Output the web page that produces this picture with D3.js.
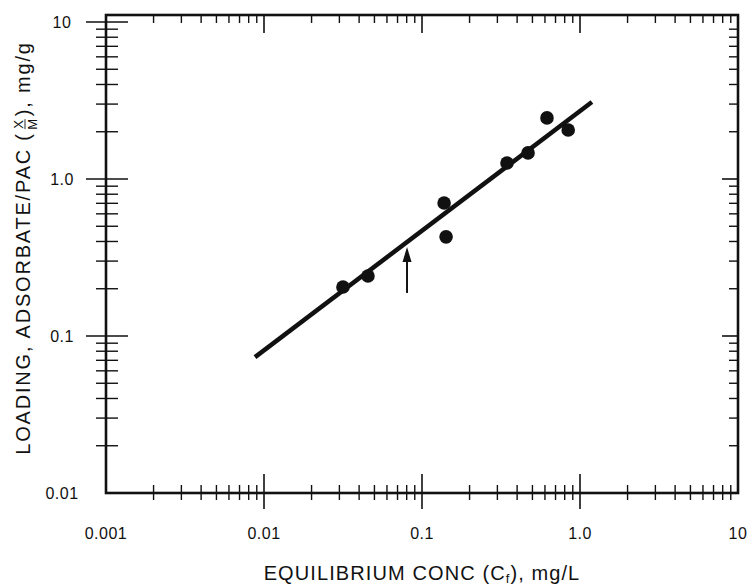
<!DOCTYPE html>
<html>
<head>
<meta charset="utf-8">
<script src="https://cdn.jsdelivr.net/npm/d3@7"></script>
<style>
  html, body { margin: 0; padding: 0; background: #fff; }
  svg text { font-family: "Liberation Sans", Arial, sans-serif; fill: #111; }
</style>
</head>
<body>
<svg id="chart" width="750" height="587"></svg>
<script>
// Equilibrium concentration (mg/L) and PAC loading (mg/g) of the measured points
const concValues = [0.0316, 0.0455, 0.138, 0.142, 0.345, 0.469, 0.618, 0.842];
const loadingValues = [0.205, 0.241, 0.703, 0.428, 1.265, 1.466, 2.45, 2.05];

// Fitted isotherm line, end points
const fitConc = [0.00877, 1.19];
const fitLoading = [0.0734, 3.09];

// Arrow marker: concentration and loading range of the shaft
const arrowConc = [0.0804, 0.0804];
const arrowLoading = [0.188, 0.369];

// Tick labels
const xTickValues = [0.001, 0.01, 0.1, 1, 10];
const xTickLabels = ["0.001", "0.01", "0.1", "1.0", "10"];
const yTickValues = [0.01, 0.1, 1, 10];
const yTickLabels = ["0.01", "0.1", "1.0", "10"];

const svg = d3.select("#chart");

const x = d3.scaleLog().domain([0.001, 10]).range([106, 738]);
const y = d3.scaleLog().domain([0.01, 10]).range([493, 22]);

// frame edges; the top edge sits a little above the 10 tick
const plotL = x(0.001), plotR = x(10), plotB = y(0.01), plotT = y(10) - 7;

// minor tick values for each decade
function minors(lo, hi) {
  const out = [];
  for (let d = lo; d < hi * 0.999; d *= 10) {
    for (let k = 2; k <= 9; k++) out.push(d * k);
  }
  return out;
}
const xMinor = minors(0.001, 10);
const yMinor = minors(0.01, 10);

const ink = "#111";

function ticks(g, data, cls, x1, x2, y1, y2, sw) {
  g.selectAll("line." + cls).data(data).join("line").attr("class", cls)
    .attr("x1", x1).attr("x2", x2).attr("y1", y1).attr("y2", y2)
    .attr("stroke", ink).attr("stroke-width", sw);
}

// Bottom axis: ticks cross the line
const gB = svg.append("g");
ticks(gB, xMinor, "minor", d => x(d), d => x(d), plotB - 8, plotB + 7, 1.4);
ticks(gB, xTickValues.slice(1, -1), "major", d => x(d), d => x(d), plotB - 19, plotB + 16, 1.6);
gB.selectAll("text").data(xTickValues).join("text")
  .attr("x", d => x(d)).attr("y", 539)
  .attr("text-anchor", "middle")
  .attr("font-size", 16).attr("letter-spacing", 0.5)
  .text((d, i) => xTickLabels[i]);

// Top axis: ticks point inward
const gT = svg.append("g");
ticks(gT, xMinor, "minor", d => x(d), d => x(d), plotT, plotT + 8, 1.4);
ticks(gT, xTickValues.slice(1, -1), "major", d => x(d), d => x(d), plotT, plotT + 18, 1.6);

// Left axis: ticks cross the line
const gL = svg.append("g");
ticks(gL, yMinor, "minor", plotL - 10, plotL + 12, d => y(d), d => y(d), 1.4);
ticks(gL, yTickValues.slice(1), "major", plotL - 20, plotL + 22, d => y(d), d => y(d), 1.6);
gL.selectAll("text").data(yTickValues).join("text")
  .attr("x", 62).attr("y", d => y(d) + 6)
  .attr("text-anchor", "middle")
  .attr("font-size", 16).attr("letter-spacing", 0.5)
  .text((d, i) => yTickLabels[i]);

// Right axis: ticks point inward
const gR = svg.append("g");
ticks(gR, yMinor, "minor", plotR - 9, plotR, d => y(d), d => y(d), 1.4);
ticks(gR, yTickValues.slice(1, -1), "major", plotR - 16, plotR + 1, d => y(d), d => y(d), 1.6);

// Frame
svg.append("rect")
  .attr("x", plotL).attr("y", plotT)
  .attr("width", plotR - plotL).attr("height", plotB - plotT)
  .attr("fill", "none").attr("stroke", ink).attr("stroke-width", 2.6);

// Fitted isotherm
const fit = fitConc.map((c, i) => [c, fitLoading[i]]);
svg.append("path")
  .datum(fit)
  .attr("d", d3.line().x(d => x(d[0])).y(d => y(d[1])))
  .attr("stroke", ink).attr("stroke-width", 4.5).attr("fill", "none");

// Measured points
const pts = concValues.map((c, i) => [c, loadingValues[i]]);
svg.append("g").selectAll("circle").data(pts).join("circle")
  .attr("cx", d => x(d[0])).attr("cy", d => y(d[1]))
  .attr("r", 6.8).attr("fill", ink);

// Arrow marker
const ax = x(arrowConc[0]);
const aTail = y(arrowLoading[0]);
const aTip = y(arrowLoading[1]);
svg.append("line")
  .attr("x1", ax).attr("x2", ax)
  .attr("y1", aTail).attr("y2", aTip + 8)
  .attr("stroke", ink).attr("stroke-width", 2);
svg.append("path")
  .attr("d", `M${ax},${aTip} L${ax - 4.5},${aTip + 15} L${ax + 4.5},${aTip + 15} Z`)
  .attr("fill", ink);

// X axis title with subscript
const xt = svg.append("text")
  .attr("x", 422).attr("y", 580)
  .attr("text-anchor", "middle")
  .attr("font-size", 20).attr("letter-spacing", 1.1);
xt.append("tspan").text("EQUILIBRIUM CONC (C");
xt.append("tspan").attr("font-size", 13).attr("dy", 3).text("f");
xt.append("tspan").attr("dy", -3).text("), mg/L");

// Y axis title, rotated, with X over M fraction
const yg = svg.append("g").attr("transform", "translate(30,248) rotate(-90)");
const fs = 20, ls = 1.8;
const part1 = yg.append("text").attr("font-size", fs).attr("letter-spacing", ls)
  .text("LOADING, ADSORBATE/PAC (");
const w1 = part1.node().getComputedTextLength();
const fracG = yg.append("g");
fracG.append("text").attr("font-size", 13).attr("x", 0.5).attr("y", -7).text("X");
fracG.append("line").attr("x1", 0).attr("x2", 10).attr("y1", -5).attr("y2", -5)
  .attr("stroke", ink).attr("stroke-width", 0.9);
fracG.append("text").attr("font-size", 13).attr("x", -0.5).attr("y", 7).text("M");
const part2 = yg.append("text").attr("font-size", fs).attr("letter-spacing", ls)
  .text("), mg/g");
const w2 = part2.node().getComputedTextLength();
const fracW = 16;
const total = w1 + fracW + w2;
part1.attr("x", -total / 2);
fracG.attr("transform", `translate(${-total / 2 + w1 + 3},0)`);
part2.attr("x", -total / 2 + w1 + fracW);
</script>
</body>
</html>
